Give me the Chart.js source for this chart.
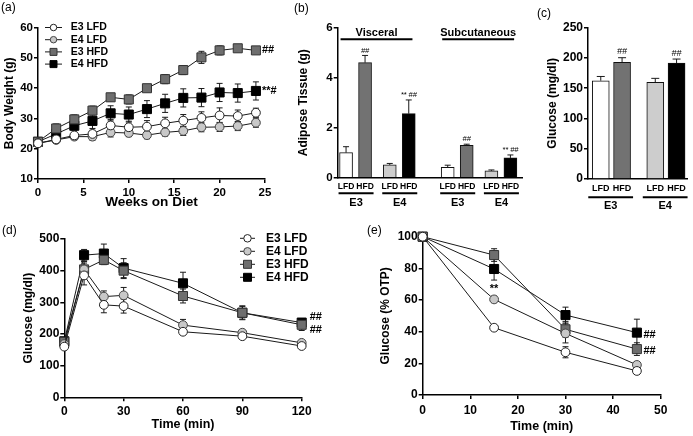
<!DOCTYPE html>
<html>
<head>
<meta charset="utf-8">
<title>ApoE diet figure</title>
<script src="https://cdn.jsdelivr.net/npm/chart.js@4.4.1/dist/chart.umd.min.js"></script>
<style>
  body { margin: 0; background: #fff; font-family: 'Liberation Sans', Arial, sans-serif; }
  #figure { position: relative; width: 693px; height: 436px; overflow: hidden; background: #fff; }
  .panel { position: absolute; }
  .tag { position: absolute; font-size: 12px; line-height: 12px; color: #000; }
</style>
</head>
<body>
<div id="figure">
  <canvas class="panel" id="weightChart" width="290" height="215" style="left:0;top:0"></canvas>
  <canvas class="panel" id="adiposeChart" width="245" height="215" style="left:290px;top:0"></canvas>
  <canvas class="panel" id="glucoseChart" width="163" height="215" style="left:530px;top:0"></canvas>
  <canvas class="panel" id="gttChart" width="350" height="221" style="left:0;top:215px"></canvas>
  <canvas class="panel" id="ittChart" width="343" height="221" style="left:350px;top:215px"></canvas>
  <div class="tag" style="left:1px;top:1px">(a)</div>
  <div class="tag" style="left:294px;top:2px">(b)</div>
  <div class="tag" style="left:537px;top:7px">(c)</div>
  <div class="tag" style="left:2px;top:224px">(d)</div>
  <div class="tag" style="left:367px;top:224px">(e)</div>
</div>
<script>
// (a) body weight, mean and SEM
const weeks = [0, 2, 4, 6, 8, 10, 12, 14, 16, 18, 20, 22, 24];
const weightE3LFD = [21.8, 23.1, 24.4, 24.9, 27.7, 27.1, 27.3, 28.4, 29.3, 30.2, 31.0, 30.8, 31.9];
const weightE4LFD = [21.8, 22.9, 24.0, 24.0, 25.4, 25.2, 24.5, 25.4, 25.9, 27.1, 27.2, 27.5, 28.6];
const weightE3HFD = [22.3, 26.7, 29.7, 32.6, 37.0, 36.3, 40.0, 43.0, 46.0, 50.2, 52.5, 53.2, 52.5];
const weightE4HFD = [22.3, 24.9, 27.6, 29.2, 31.7, 31.3, 33.1, 35.0, 36.8, 36.9, 38.6, 38.4, 39.1];
const weightE3LFDErr = [0.8, 1.0, 1.0, 1.2, 2.0, 2.0, 2.0, 2.0, 2.0, 2.0, 2.5, 2.0, 1.5];
const weightE4LFDErr = [0.8, 1.0, 1.0, 1.2, 1.5, 1.2, 1.2, 1.2, 1.5, 1.5, 1.5, 1.5, 1.5];
const weightE3HFDErr = [0.8, 1.5, 1.5, 1.5, 1.2, 1.5, 1.0, 1.5, 1.5, 2.0, 1.5, 0.8, 0.8];
const weightE4HFDErr = [0.8, 1.2, 1.5, 2.5, 2.5, 2.5, 2.8, 3.0, 3.0, 3.0, 3.0, 3.0, 3.0];

// (b) and (c) bars, order: E3 LFD, E3 HFD, E4 LFD, E4 HFD
const diets = ['LFD', 'HFD'];
const genotypes = ['E3', 'E4'];
const depots = ['Visceral', 'Subcutaneous'];
const visceralMean = [1.0, 4.6, 0.51, 2.56];
const visceralErr = [0.24, 0.29, 0.06, 0.55];
const visceralMarks = ['', '##', '', '** ##'];
const subcutMean = [0.41, 1.29, 0.27, 0.79];
const subcutErr = [0.09, 0.05, 0.04, 0.12];
const subcutMarks = ['', '##', '', '** ##'];
const glucoseMean = [162.4, 192.7, 159.7, 191.6];
const glucoseErr = [7.0, 7.7, 6.6, 6.6];
const glucoseMarks = ['', '##', '', '##'];

// (d) glucose tolerance test
const gttTimes = [0, 10, 20, 30, 60, 90, 120];
const gttE3LFD = [160, 385, 292, 288, 207, 193, 162];
const gttE4LFD = [168, 404, 318, 322, 228, 204, 172];
const gttE3HFD = [175, 404, 434, 400, 320, 267, 229];
const gttE4HFD = [177, 449, 454, 408, 360, 267, 236];
const gttE3LFDErr = [8, 30, 25, 22, 8, 8, 8];
const gttE4LFDErr = [8, 25, 18, 25, 18, 8, 8];
const gttE3HFDErr = [10, 20, 15, 25, 22, 22, 18];
const gttE4HFDErr = [10, 18, 30, 30, 35, 20, 10];

// (e) insulin tolerance test, % of time zero
const ittTimes = [0, 15, 30, 45];
const ittE3LFD = [100, 42.5, 27.0, 15.2];
const ittE4LFD = [100, 60.4, 38.9, 19.0];
const ittE3HFD = [100, 88.4, 41.5, 29.0];
const ittE4HFD = [100, 79.6, 50.5, 39.4];
const ittE3LFDErr = [0, 1, 3.5, 2];
const ittE4LFDErr = [0, 2, 6, 2];
const ittE3HFDErr = [0, 4, 5, 4];
const ittE4HFDErr = [0, 7, 5, 8.5];

const groupNames = ['E3 LFD', 'E4 LFD', 'E3 HFD', 'E4 HFD'];
const groupFill = { 'E3 LFD': '#ffffff', 'E4 LFD': '#c8c8c8', 'E3 HFD': '#6e6e6e', 'E4 HFD': '#000000' };
const groupEdge = { 'E3 LFD': '#222222', 'E4 LFD': '#444444', 'E3 HFD': '#333333', 'E4 HFD': '#000000' };
const groupShape = { 'E3 LFD': 'circle', 'E4 LFD': 'circle', 'E3 HFD': 'rect', 'E4 HFD': 'rect' };
const barFill = { 'E3 LFD': '#ffffff', 'E3 HFD': '#727272', 'E4 LFD': '#cdcdcd', 'E4 HFD': '#000000' };

Chart.defaults.font.family = "'Liberation Sans', Arial, Helvetica, sans-serif";
Chart.defaults.color = '#000';

const barNames = genotypes.flatMap(g => diets.map(k => g + ' ' + k));

function lineSet(label, xs, ys, errs) {
  const square = groupShape[label] === 'rect';
  return {
    label,
    data: xs.map((x, i) => ({ x, y: ys[i] })),
    errors: errs,
    borderColor: '#1a1a1a',
    borderWidth: 1,
    pointStyle: groupShape[label],
    pointRadius: square ? 6.4 : 4.4,
    pointBackgroundColor: groupFill[label],
    pointBorderColor: groupEdge[label],
    pointBorderWidth: 1,
    clip: false
  };
}

function drawErrors(chart, cap, upOnly) {
  const ctx = chart.ctx;
  const yScale = chart.scales.y;
  ctx.save();
  ctx.strokeStyle = '#1a1a1a';
  ctx.lineWidth = 1;
  chart.data.datasets.forEach((ds, di) => {
    if (!ds.errors) return;
    chart.getDatasetMeta(di).data.forEach((el, i) => {
      const err = ds.errors[i];
      if (!err) return;
      const v = ds.data[i].y;
      const top = yScale.getPixelForValue(v + err);
      const bottom = upOnly ? el.y : yScale.getPixelForValue(v - err);
      ctx.beginPath();
      ctx.moveTo(el.x, bottom);
      ctx.lineTo(el.x, top);
      ctx.moveTo(el.x - cap / 2, top);
      ctx.lineTo(el.x + cap / 2, top);
      if (!upOnly) {
        ctx.moveTo(el.x - cap / 2, bottom);
        ctx.lineTo(el.x + cap / 2, bottom);
      }
      ctx.stroke();
    });
  });
  ctx.restore();
}

function errorBars(cap, upOnly) {
  return upOnly
    ? { id: 'errorBars', afterDatasetsDraw(chart) { drawErrors(chart, cap, true); } }
    : { id: 'errorBars', beforeDatasetsDraw(chart) { drawErrors(chart, cap, false); } };
}

// significance marks anchored to data values
function notes(items) {
  return {
    id: 'notes',
    afterDatasetsDraw(chart) {
      const ctx = chart.ctx;
      ctx.save();
      ctx.fillStyle = '#000';
      ctx.textBaseline = 'middle';
      items.forEach(n => {
        ctx.font = n.font;
        ctx.textAlign = n.align || 'left';
        const x = chart.scales.x.getPixelForValue(n.x) + (n.dx || 0);
        const y = chart.scales.y.getPixelForValue(n.y) + (n.dy || 0);
        ctx.fillText(n.text, x, y);
      });
      ctx.restore();
    }
  };
}

function drawMarker(ctx, name, x, y, size) {
  ctx.fillStyle = groupFill[name];
  ctx.strokeStyle = groupEdge[name];
  ctx.lineWidth = 1;
  ctx.beginPath();
  if (groupShape[name] === 'rect') ctx.rect(x - size / 2, y - size / 2, size, size);
  else ctx.arc(x, y, size / 2, 0, Math.PI * 2);
  ctx.fill();
  ctx.stroke();
}

function markerLegend(box) {
  return {
    id: 'markerLegend',
    afterDraw(chart) {
      const ctx = chart.ctx;
      ctx.save();
      chart.data.datasets.forEach((ds, i) => {
        const y = box.y + i * box.step;
        ctx.strokeStyle = '#1a1a1a';
        ctx.lineWidth = 1;
        ctx.beginPath();
        ctx.moveTo(box.x0, y);
        ctx.lineTo(box.x1, y);
        ctx.stroke();
        const size = groupShape[ds.label] === 'rect' ? box.size : box.size - 0.5;
        drawMarker(ctx, ds.label, (box.x0 + box.x1) / 2, y, size);
        ctx.fillStyle = '#000';
        ctx.font = box.font;
        ctx.textAlign = 'left';
        ctx.textBaseline = 'middle';
        ctx.fillText(ds.label, box.text, y);
      });
      ctx.restore();
    }
  };
}

// underline each LFD/HFD pair and name the genotype below it
function genotypeRows(slots, lineY, textY, padL, padR) {
  return {
    id: 'genotypeRows',
    afterDraw(chart) {
      const ctx = chart.ctx;
      const xs = chart.scales.x;
      ctx.save();
      ctx.strokeStyle = '#000';
      ctx.lineWidth = 2;
      ctx.fillStyle = '#000';
      ctx.font = 'bold 11px "Liberation Sans", Arial, sans-serif';
      ctx.textAlign = 'center';
      ctx.textBaseline = 'middle';
      for (let p = 0; p < slots.length / 2; p++) {
        const a = xs.getPixelForValue(slots[2 * p]) - padL;
        const b = xs.getPixelForValue(slots[2 * p + 1]) + padR;
        ctx.beginPath();
        ctx.moveTo(a, lineY);
        ctx.lineTo(b, lineY);
        ctx.stroke();
        ctx.fillText(genotypes[p % 2], (a + b) / 2, textY);
      }
      ctx.restore();
    }
  };
}

function depotHeaders(slots) {
  return {
    id: 'depotHeaders',
    afterDraw(chart) {
      const ctx = chart.ctx;
      const xs = chart.scales.x;
      ctx.save();
      ctx.strokeStyle = '#000';
      ctx.lineWidth = 2;
      ctx.fillStyle = '#000';
      ctx.font = 'bold 11px "Liberation Sans", Arial, sans-serif';
      ctx.textAlign = 'center';
      ctx.textBaseline = 'middle';
      depots.forEach((d, di) => {
        const a = xs.getPixelForValue(slots[di * 4]) - 5.5;
        const b = xs.getPixelForValue(slots[di * 4 + 3]) + 3.7;
        ctx.beginPath();
        ctx.moveTo(a, 39.3);
        ctx.lineTo(b, 39.3);
        ctx.stroke();
        ctx.fillText(d, (a + b) / 2, 33);
      });
      ctx.restore();
    }
  };
}

function yAxis(min, max, step, size, width, title, titlePad) {
  return {
    type: 'linear', min, max,
    ticks: { stepSize: step, font: { size, weight: 'bold' }, padding: 1, color: '#000' },
    grid: { drawOnChartArea: false, drawTicks: true, tickLength: 4, color: '#000', lineWidth: 1.5 },
    border: { color: '#000', width: 1.5 },
    title: { display: true, text: title, color: '#000', font: { size: 12, weight: 'bold' }, padding: { top: titlePad, bottom: 0 } },
    afterFit(scale) { scale.width = width; }
  };
}

function xAxis(min, max, step, size, height, title, titleSize, titlePad, labelPad) {
  return {
    type: 'linear', min, max, offset: false,
    ticks: { stepSize: step, font: { size, weight: 'bold' }, padding: labelPad, color: '#000', maxRotation: 0 },
    grid: { drawOnChartArea: false, drawTicks: true, tickLength: 4, color: '#000', lineWidth: 1.5 },
    border: { color: '#000', width: 1.5 },
    title: { display: true, text: title, color: '#000', font: { size: titleSize, weight: 'bold' }, padding: { top: 0, bottom: titlePad } },
    afterFit(scale) { scale.height = height; }
  };
}

function slotAxis(min, max, slots, size, height, labelPad) {
  return {
    type: 'linear', min, max, offset: false,
    afterBuildTicks(scale) { scale.ticks = slots.map(v => ({ value: v })); },
    ticks: { autoSkip: false, maxRotation: 0, font: { size, weight: 'bold' }, padding: labelPad, color: '#000',
      callback: (v, i) => diets[i % 2] },
    grid: { drawOnChartArea: false, drawTicks: false, offset: false },
    border: { color: '#000', width: 1.5 },
    afterFit(scale) { scale.height = height; }
  };
}

const common = {
  responsive: false,
  animation: false,
  devicePixelRatio: 1,
  plugins: { legend: { display: false }, tooltip: { enabled: false } }
};

// (a)
new Chart(document.getElementById('weightChart'), {
  type: 'line',
  data: {
    datasets: [
      lineSet('E3 LFD', weeks, weightE3LFD, weightE3LFDErr),
      lineSet('E4 LFD', weeks, weightE4LFD, weightE4LFDErr),
      lineSet('E3 HFD', weeks, weightE3HFD, weightE3HFDErr),
      lineSet('E4 HFD', weeks, weightE4HFD, weightE4HFDErr)
    ]
  },
  options: {
    ...common,
    layout: { padding: { left: 0, top: 27.7, right: 25, bottom: 0 } },
    scales: {
      x: xAxis(0, 25, 5, 11.5, 36, 'Weeks on Diet', 13.6, 4.2, 3),
      y: yAxis(10, 60, 10, 11.5, 38, 'Body Weight (g)', 2.8)
    }
  },
  plugins: [
    errorBars(6, false),
    notes([
      { x: 24, y: weightE3HFD[12], text: '##', dx: 6, font: 'bold 11px "Liberation Sans", Arial, sans-serif' },
      { x: 24, y: weightE4HFD[12], text: '**#', dx: 6, font: 'bold 11px "Liberation Sans", Arial, sans-serif' }
    ]),
    markerLegend({ x0: 45, x1: 62, text: 70.7, y: 27.5, step: 12.2, size: 7, font: 'bold 10.5px "Liberation Sans", Arial, sans-serif' })
  ]
});

// (b)
const adiposeSlots = [];
depots.forEach((d, di) => genotypes.forEach((g, gi) => diets.forEach((k, ki) => adiposeSlots.push(di * 5.35 + gi * 2.3 + ki))));
const adiposeMean = visceralMean.concat(subcutMean);
const adiposeErr = visceralErr.concat(subcutErr);
const adiposeMarks = visceralMarks.concat(subcutMarks);

new Chart(document.getElementById('adiposeChart'), {
  type: 'bar',
  data: {
    datasets: [{
      data: adiposeSlots.map((x, i) => ({ x, y: adiposeMean[i] })),
      errors: adiposeErr,
      backgroundColor: adiposeSlots.map((x, i) => barFill[barNames[i % 4]]),
      borderColor: '#111',
      borderWidth: 1,
      barThickness: 13
    }]
  },
  options: {
    ...common,
    layout: { padding: { left: 0, top: 27.7, right: 13, bottom: 0 } },
    scales: {
      x: slotAxis(-0.44, 9.26, adiposeSlots, 8.5, 37.3, 3.5),
      y: yAxis(0, 6, 2, 11.5, 47.7, 'Adipose Tissue (g)', 6.1)
    }
  },
  plugins: [
    errorBars(6, true),
    notes(adiposeMarks.map((t, i) => ({ x: adiposeSlots[i], y: adiposeMean[i] + adiposeErr[i], text: t, dy: -5, align: 'center',
      font: 'italic 7.5px "Liberation Sans", Arial, sans-serif' })).filter(n => n.text)),
    genotypeRows(adiposeSlots, 193.3, 203.3, 7.5, 8.5),
    depotHeaders(adiposeSlots)
  ]
});

// (c)
const glucoseSlots = [];
genotypes.forEach((g, gi) => diets.forEach((k, ki) => glucoseSlots.push(gi * 2.56 + ki)));

new Chart(document.getElementById('glucoseChart'), {
  type: 'bar',
  data: {
    datasets: [{
      data: glucoseSlots.map((x, i) => ({ x, y: glucoseMean[i] })),
      errors: glucoseErr,
      backgroundColor: barNames.map(n => barFill[n]),
      borderColor: '#111',
      borderWidth: 1,
      barThickness: 17
    }]
  },
  options: {
    ...common,
    layout: { padding: { left: 0, top: 27.7, right: 6, bottom: 0 } },
    scales: {
      x: slotAxis(-0.6, 4.05, glucoseSlots, 9, 36, 4.5),
      y: yAxis(0, 250, 50, 12, 58, 'Glucose (mg/dl)', 15.5)
    }
  },
  plugins: [
    errorBars(8, true),
    notes(glucoseMarks.map((t, i) => ({ x: glucoseSlots[i], y: glucoseMean[i] + glucoseErr[i], text: t, dy: -6, align: 'center',
      font: 'italic 9px "Liberation Sans", Arial, sans-serif' })).filter(n => n.text)),
    genotypeRows(glucoseSlots, 197.3, 205.7, 12.5, 11)
  ]
});

// (d)
new Chart(document.getElementById('gttChart'), {
  type: 'line',
  data: {
    datasets: [
      lineSet('E3 LFD', gttTimes, gttE3LFD, gttE3LFDErr),
      lineSet('E4 LFD', gttTimes, gttE4LFD, gttE4LFDErr),
      lineSet('E3 HFD', gttTimes, gttE3HFD, gttE3HFDErr),
      lineSet('E4 HFD', gttTimes, gttE4HFD, gttE4HFDErr)
    ]
  },
  options: {
    ...common,
    layout: { padding: { left: 0, top: 24, right: 48.3, bottom: 0 } },
    scales: {
      x: xAxis(0, 120, 30, 12, 38.7, 'Time (min)', 12.5, 3.8, 3.5),
      y: yAxis(0, 500, 100, 12, 64.3, 'Glucose (mg/dl)', 21.1)
    }
  },
  plugins: [
    errorBars(6, false),
    notes([
      { x: 120, y: gttE4HFD[6], text: '##', dx: 8, dy: -6, font: 'bold 11px "Liberation Sans", Arial, sans-serif' },
      { x: 120, y: gttE3HFD[6], text: '##', dx: 8, dy: 5, font: 'bold 11px "Liberation Sans", Arial, sans-serif' }
    ]),
    markerLegend({ x0: 240, x1: 255, text: 266, y: 23.3, step: 13, size: 8, font: 'bold 12px "Liberation Sans", Arial, sans-serif' })
  ]
});

// (e)
new Chart(document.getElementById('ittChart'), {
  type: 'line',
  data: {
    datasets: [
      lineSet('E3 LFD', ittTimes, ittE3LFD, ittE3LFDErr),
      lineSet('E4 LFD', ittTimes, ittE4LFD, ittE4LFDErr),
      lineSet('E3 HFD', ittTimes, ittE3HFD, ittE3HFDErr),
      lineSet('E4 HFD', ittTimes, ittE4HFD, ittE4HFDErr)
    ]
  },
  options: {
    ...common,
    layout: { padding: { left: 0, top: 21.7, right: 32.3, bottom: 0 } },
    scales: {
      x: xAxis(0, 50, 10, 12, 41, 'Time (min)', 12.5, 2.1, 4),
      y: yAxis(0, 100, 20, 12, 72.7, 'Glucose (% OTP)', 28.8)
    }
  },
  plugins: [
    errorBars(6, false),
    notes([
      { x: 45, y: ittE4HFD[3], text: '##', dx: 6.5, dy: 2, font: 'bold 11px "Liberation Sans", Arial, sans-serif' },
      { x: 45, y: ittE3HFD[3], text: '##', dx: 6.5, dy: 2, font: 'bold 11px "Liberation Sans", Arial, sans-serif' },
      { x: 15, y: ittE4LFD[1], text: '**', dy: -10, align: 'center', font: 'bold 11px "Liberation Sans", Arial, sans-serif' }
    ])
  ]
});
</script>
</body>
</html>
